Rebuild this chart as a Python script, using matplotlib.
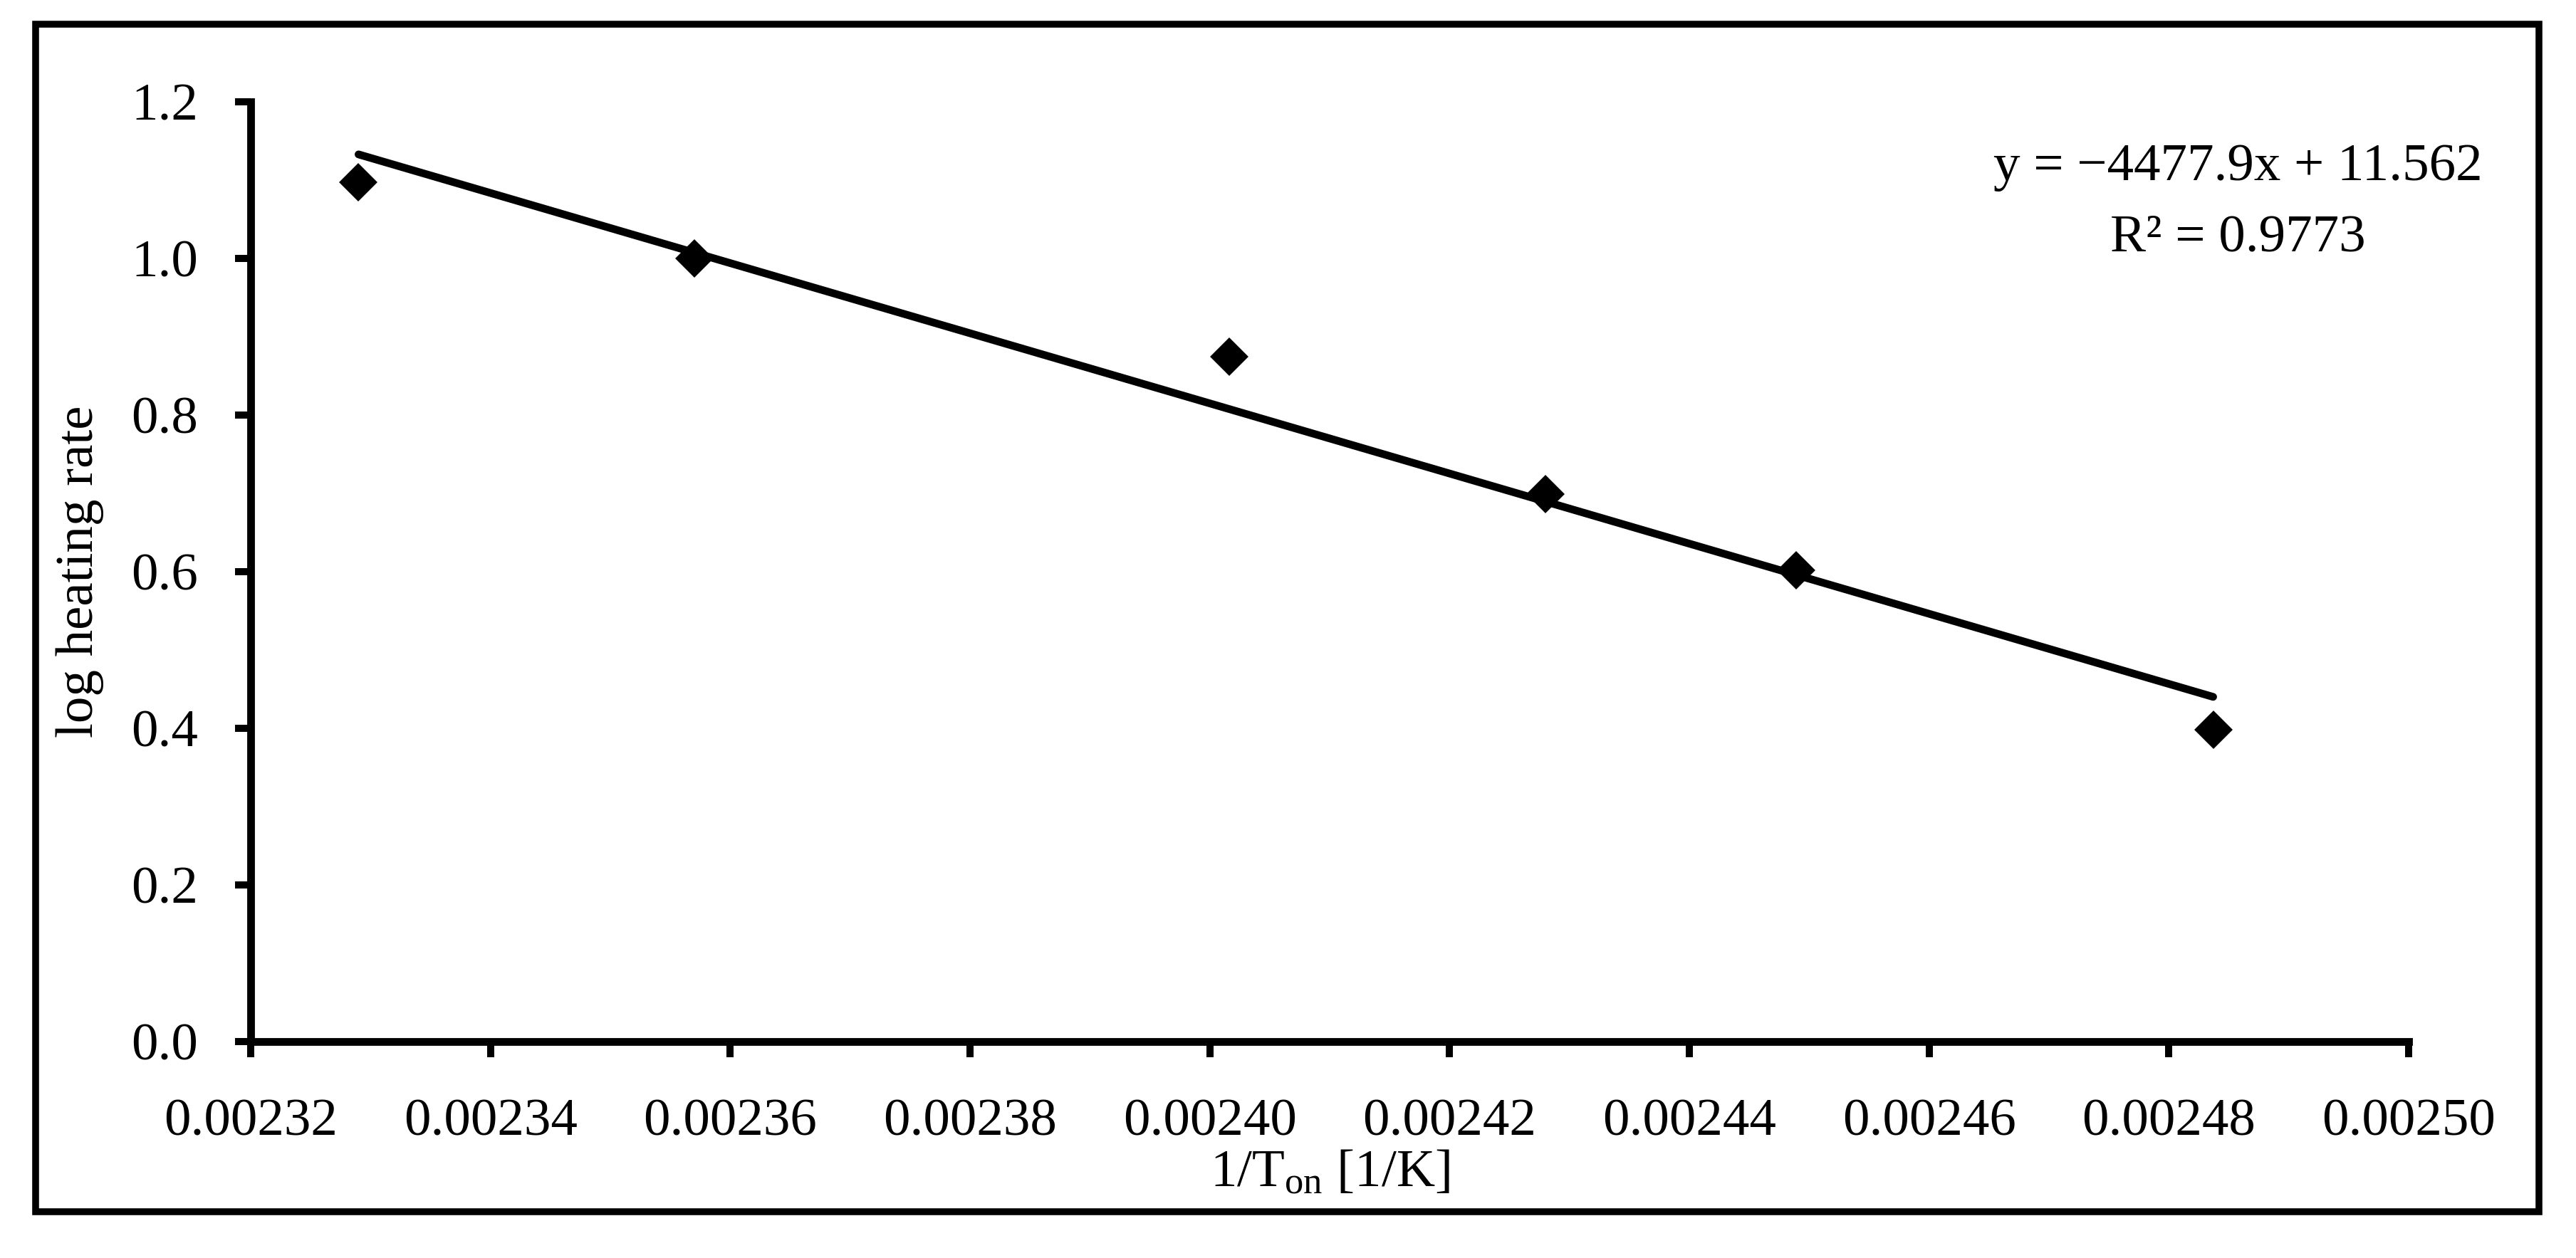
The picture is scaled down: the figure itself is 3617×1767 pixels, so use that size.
import matplotlib
matplotlib.use('Agg')
import matplotlib.pyplot as plt
from matplotlib.patches import Rectangle

# data: inverse onset temperature vs log of heating rate
inv_T = [0.002329, 0.002357, 0.0024016, 0.002428, 0.0024489, 0.0024837]
log_rate = [1.097, 1.000, 0.875, 0.699, 0.602, 0.398]

# linear fit reported on the chart
slope = -4477.9
intercept = 11.562
r2 = 0.9773

x_ticks = [0.00232, 0.00234, 0.00236, 0.00238, 0.00240,
           0.00242, 0.00244, 0.00246, 0.00248, 0.00250]
y_ticks = [0.0, 0.2, 0.4, 0.6, 0.8, 1.0, 1.2]

plt.rcParams['font.family'] = ['Liberation Serif', 'DejaVu Serif']
plt.rcParams['mathtext.fontset'] = 'custom'
plt.rcParams['mathtext.rm'] = 'Liberation Serif'
plt.rcParams['mathtext.it'] = 'Liberation Serif:italic'

fs = 18

fig = plt.figure(figsize=(3617/300, 1767/300), dpi=300)
ax = fig.add_axes([0.0973, 0.172, 0.8377, 0.747])

x_fit = [min(inv_T), max(inv_T)]
y_fit = [slope*v + intercept for v in x_fit]
ax.plot(x_fit, y_fit, color='black', lw=2.6, solid_capstyle='round', zorder=2)
ax.plot(inv_T, log_rate, linestyle='none', marker='D', markersize=8.3,
        color='black', zorder=3)

ax.set_xlim(0.00232, 0.00250)
ax.set_ylim(0, 1.2)
ax.set_xticks(x_ticks)
ax.set_xticklabels(['%.5f' % t for t in x_ticks])
ax.set_yticks(y_ticks)
ax.set_yticklabels(['%.1f' % t for t in y_ticks])

for s in ['top', 'right']:
    ax.spines[s].set_visible(False)
for s in ['left', 'bottom']:
    ax.spines[s].set_linewidth(2.6)
ax.tick_params(axis='both', direction='out', length=5.3, width=2.4,
               labelsize=fs, colors='black')
ax.tick_params(axis='x', pad=14)
ax.tick_params(axis='y', pad=12.5)

ax.set_xlabel(r'1/T$_{\mathrm{on}}$ [1/K]', fontsize=fs, labelpad=1)
ax.set_ylabel('log heating rate', fontsize=fs, labelpad=9)

ax.text(0.921, 0.917, 'y = \u22124477.9x + 11.562', transform=ax.transAxes,
        ha='center', va='baseline', fontsize=fs)
ax.text(0.921, 0.841, 'R\u00b2 = %.4f' % r2, transform=ax.transAxes,
        ha='center', va='baseline', fontsize=fs)

# outer frame around the whole figure
fig.patches.append(Rectangle((0.0138, 0.0368), 0.9718, 0.944, transform=fig.transFigure,
                             fill=False, lw=2.3, edgecolor='black'))

fig.savefig('out.png', dpi=300)
